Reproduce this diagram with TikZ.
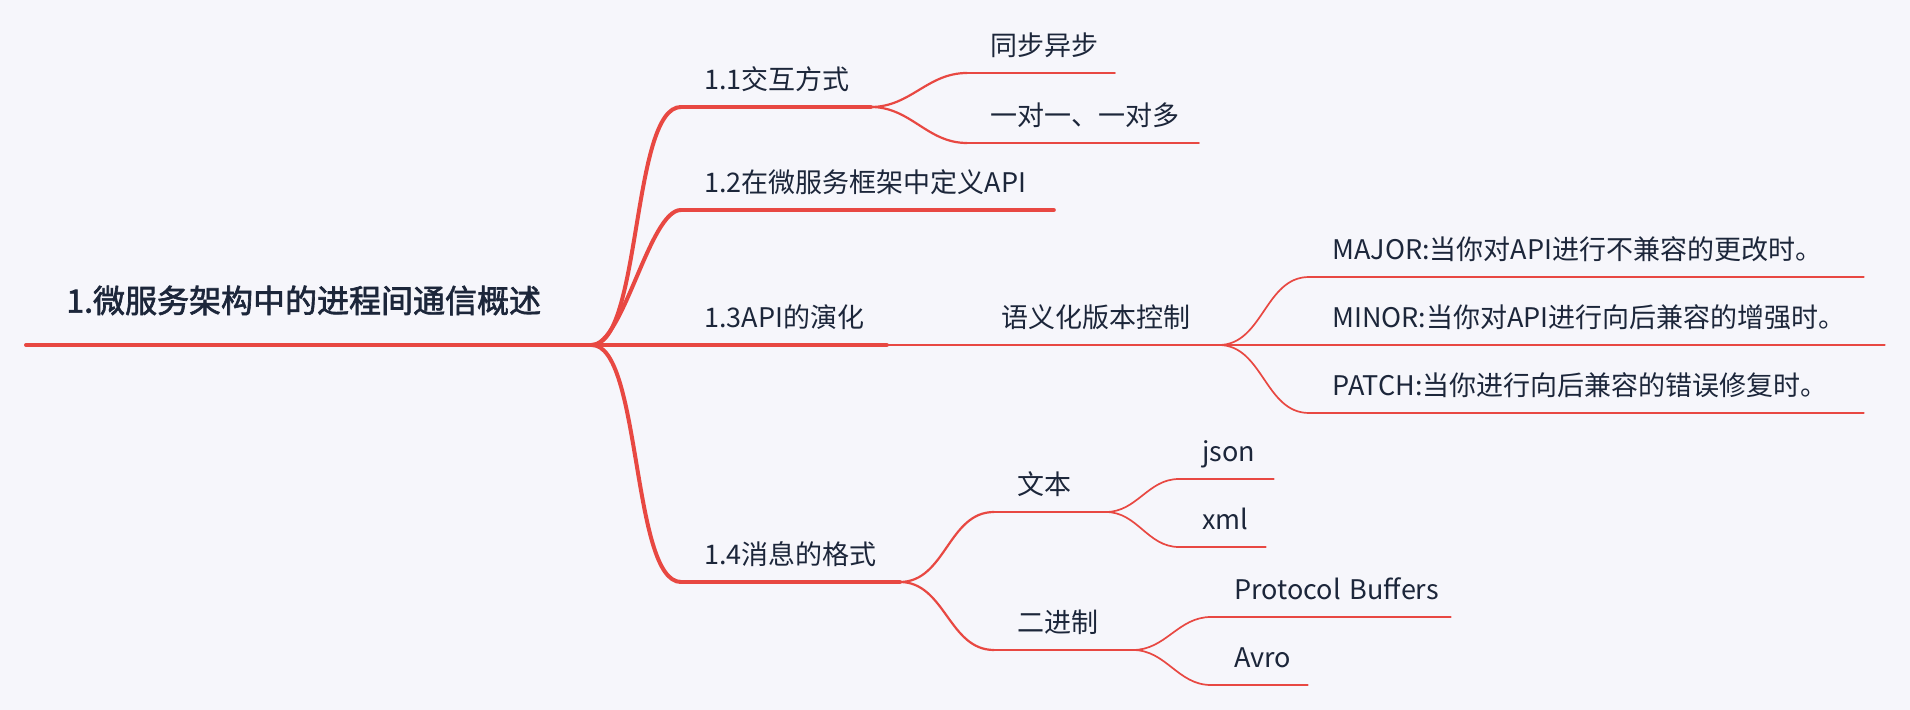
\documentclass[tikz,border=0pt]{standalone}
\usepackage{fontspec}
\setmainfont{Noto Sans CJK SC}
\newfontfamily\rootfont[FakeBold=2]{Noto Sans CJK SC}
\usepackage{tikz}
\usetikzlibrary{positioning}
\usepackage{xcolor}
\definecolor{branchred}{RGB}{232,72,66}
\definecolor{inkcolor}{RGB}{28,38,58}
\definecolor{paper}{RGB}{246,246,251}

\begin{document}
\begin{tikzpicture}[
    x=0.5pt, y=-0.5pt,
    topic/.style={anchor=south west, inner xsep=0pt, inner ysep=8.5pt, text depth=0pt, align=left,
        execute at begin node={\hspace*{11.5pt}}, text=inkcolor, font=\fontsize{13.5}{16}\selectfont},
    rootbox/.style={anchor=south west, inner xsep=0pt, inner ysep=16pt, text depth=0pt, align=left,
        execute at begin node={\hspace*{20pt}}, text=inkcolor, font=\fontsize{16}{19}\rootfont},
    lvA/.style={branchred, line width=2pt, line cap=round},
    lvB/.style={branchred, line width=1.1pt, line cap=round},
    lvC/.style={branchred, line width=0.85pt, line cap=round},
    twig/.style={out=0, in=180},
    limb/.style={out=0, in=180, looseness=0.5}
]

\useasboundingbox (0,0) rectangle (1910,710);
\fill[paper] (0,0) rectangle (1910,710);

% Root
\node[rootbox, text width=282.5pt] (root) at (26,345) {1.微服务架构中的进程间通信概述};

% Level 1
\node[topic, text width=94.5pt] (t11) at (681,107) {1.1交互方式};
\node[topic, text width=186pt] (t12) at (681,210) {1.2在微服务框架中定义API};
\node[topic, text width=102.5pt] (t13) at (681,345) {1.3API的演化};
\node[topic, text width=109pt] (t14) at (681,582) {1.4消息的格式};

% Level 2
\node[topic, text width=73.5pt] (t111) at (967,73) {同步异步};
\node[topic, text width=115.5pt] (t112) at (967,143) {一对一、一对多};
\node[topic, text width=120pt] (t131) at (978,345) {语义化版本控制};
\node[topic, text width=55.5pt] (t141) at (994,512) {文本};
\node[topic, text width=69pt] (t142) at (994,650) {二进制};

% Level 3
\node[topic, text width=277pt] (t1311) at (1309,277) {MAJOR:当你对API进行不兼容的更改时。};
\node[topic, text width=287.5pt] (t1312) at (1309,345) {MINOR:当你对API进行向后兼容的增强时。};
\node[topic, text width=277pt] (t1313) at (1309,413) {PATCH:当你进行向后兼容的错误修复时。};
\node[topic, text width=47pt] (t1411) at (1179,479) {json};
\node[topic, text width=43pt] (t1412) at (1179,547) {xml};
\node[topic, text width=119.5pt] (t1421) at (1211,617) {Protocol Buffers};
\node[topic, text width=48pt] (t1422) at (1211,685) {Avro};

% Underlines
\draw[lvA] (root.south west) -- (root.south east);
\foreach \n in {t11,t12,t13,t14}
    \draw[lvA] (\n.south west) -- (\n.south east);
\foreach \n in {t111,t112,t131,t141,t142}
    \draw[lvB] (\n.south west) -- (\n.south east);
\foreach \n in {t1311,t1312,t1313,t1411,t1412,t1421,t1422}
    \draw[lvC] (\n.south west) -- (\n.south east);

% Branches
\foreach \n in {t11,t12,t13,t14}
    \draw[lvA] (root.south east) to[limb] (\n.south west);
\draw[lvB] (t11.south east) to[twig] (t111.south west);
\draw[lvB] (t11.south east) to[twig] (t112.south west);
\draw[lvB] (t13.south east) to[twig] (t131.south west);
\draw[lvB] (t14.south east) to[twig] (t141.south west);
\draw[lvB] (t14.south east) to[twig] (t142.south west);
\foreach \n in {t1311,t1312,t1313}
    \draw[lvC] (t131.south east) to[twig] (\n.south west);
\draw[lvC] (t141.south east) to[twig] (t1411.south west);
\draw[lvC] (t141.south east) to[twig] (t1412.south west);
\draw[lvC] (t142.south east) to[twig] (t1421.south west);
\draw[lvC] (t142.south east) to[twig] (t1422.south west);

\end{tikzpicture}
\end{document}
